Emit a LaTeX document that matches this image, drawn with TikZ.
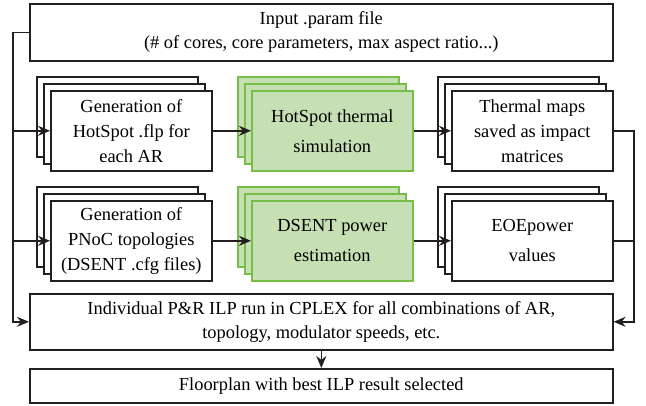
\documentclass[tikz,border=0pt]{standalone}
\usepackage{fontspec}
\setmainfont{Liberation Serif}
\usetikzlibrary{arrows.meta}
\definecolor{gfill}{RGB}{198,224,180}
\definecolor{gdraw}{RGB}{118,190,72}
\definecolor{ink}{RGB}{35,31,32}
\begin{document}
\begin{tikzpicture}[x=1pt,y=-1pt,
  box/.style={draw=ink, line width=1.6pt, fill=white, inner sep=0pt, align=center,
    anchor=north west, font=\fontsize{18.4}{24}\selectfont},
  stackbox/.style={box, minimum width=161pt, minimum height=80pt},
  greenbox/.style={stackbox, draw=gdraw, fill=gfill},
  wide/.style={box, minimum width=583pt},
  arr/.style={draw=ink, line width=1.6pt, -{Stealth[length=12pt,width=10pt]}},
  ln/.style={draw=ink, line width=1.6pt}]
\useasboundingbox (0,0) rectangle (646,405);
\coordinate (lx) at (13,0);
\coordinate (rx) at (634,0);
% top box
\node[wide, minimum height=57pt] (in) at (29,3) {Input .param file\\(\# of cores, core parameters, max aspect ratio...)};
% row 1
\node[stackbox] (g1a) at (36,76) {};
\node[stackbox] (g1b) at (43,83) {};
\node[stackbox, font=\fontsize{18.4}{25}\selectfont] (g1) at (50,90) {Generation of\\HotSpot .flp for\\each AR};
\node[greenbox] (h1a) at (237,76) {};
\node[greenbox] (h1b) at (244,83) {};
\node[greenbox] (h1) at (251,90) {HotSpot thermal\\[6pt]simulation};
\node[stackbox] (t1a) at (437,76) {};
\node[stackbox] (t1b) at (444,83) {};
\node[stackbox, font=\fontsize{18.4}{25}\selectfont] (t1) at (451,90) {Thermal maps\\saved as impact\\matrices};
% row 2
\node[stackbox] (g2a) at (36,186) {};
\node[stackbox] (g2b) at (43,193) {};
\node[stackbox, font=\fontsize{18.4}{25}\selectfont] (g2) at (50,200) {Generation of\\PNoC topologies\\(DSENT .cfg files)};
\node[greenbox] (h2a) at (237,186) {};
\node[greenbox] (h2b) at (244,193) {};
\node[greenbox] (h2) at (251,200) {DSENT power\\[6pt]estimation};
\node[stackbox] (t2a) at (437,186) {};
\node[stackbox] (t2b) at (444,193) {};
\node[stackbox] (t2) at (451,200) {EOEpower\\[6pt]values};
% bottom boxes
\node[wide, minimum height=56pt] (ilp) at (29,293) {Individual P\&R ILP run in CPLEX for all combinations of AR,\\topology, modulator speeds, etc.};
\node[wide, minimum height=34pt] (fp) at (29,368) {Floorplan with best ILP result selected};
% connectors
\draw[arr] (in.west) -| (lx |- ilp.west) -- (ilp.west);
\draw[arr] (lx |- g1.west) -- (g1.west);
\draw[arr] (lx |- g2.west) -- (g2.west);
\draw[arr] (g1.east) -- (h1.west);
\draw[arr] (h1.east) -- (t1.west);
\draw[arr] (g2.east) -- (h2.west);
\draw[arr] (h2.east) -- (t2.west);
\draw[arr] (t1.east) -| (rx |- ilp.east) -- (ilp.east);
\draw[ln] (t2.east) -- (rx |- t2.east);
\draw[arr] (ilp.south) -- (fp.north);
\end{tikzpicture}
\end{document}
